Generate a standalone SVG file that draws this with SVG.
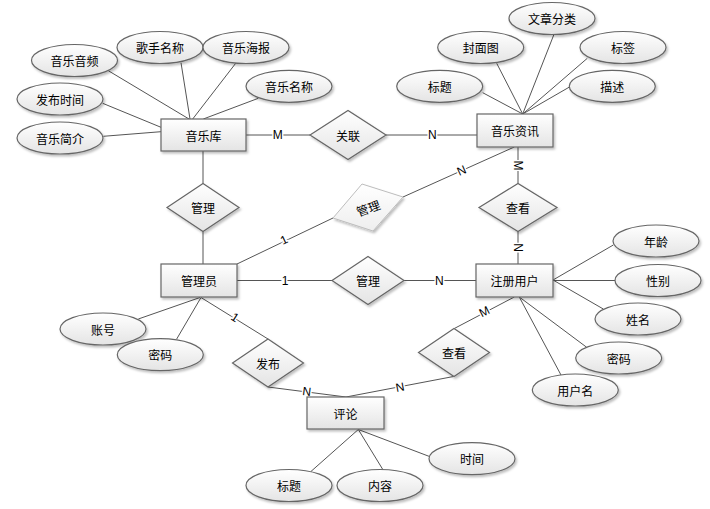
<svg xmlns="http://www.w3.org/2000/svg" width="710" height="509" viewBox="0 0 710 509">
<defs>
<linearGradient id="g" x1="0" y1="0" x2="0" y2="1"><stop offset="0" stop-color="#ffffff"/><stop offset="1" stop-color="#e4e4e4"/></linearGradient>
<linearGradient id="gl" x1="0" y1="0" x2="0" y2="1"><stop offset="0" stop-color="#ffffff"/><stop offset="1" stop-color="#eeeeee"/></linearGradient>
<filter id="sh" x="-20%" y="-20%" width="140%" height="150%"><feDropShadow dx="1.5" dy="2" stdDeviation="0.8" flood-color="#000" flood-opacity="0.25"/></filter>
</defs>
<style>
.s{fill:url(#g);stroke:#666;stroke-width:1.2;filter:url(#sh)}
.sl{fill:url(#gl);stroke:#bdbdbd;stroke-width:1;filter:url(#sh)}
.t{font-family:"Noto Sans CJK SC","Liberation Sans",sans-serif;font-size:12px;fill:#000;text-anchor:middle;dominant-baseline:central}
.c line{stroke:#555;stroke-width:1}
.l{font-family:"Liberation Sans",Arial,sans-serif;font-size:12px;fill:#000;text-anchor:middle;dominant-baseline:central;paint-order:stroke;stroke:#fff;stroke-width:3px}
</style>
<rect width="710" height="509" fill="#fff"/>
<g id="connectors" class="c">
<line x1="108.3" y1="70.7" x2="189" y2="119"/>
<line x1="181" y1="62.7" x2="190" y2="119"/>
<line x1="235.7" y1="63.3" x2="192.7" y2="119"/>
<line x1="258.3" y1="98.3" x2="203.3" y2="119"/>
<line x1="102.7" y1="103.3" x2="161" y2="127.3"/>
<line x1="103.3" y1="136.3" x2="161" y2="131.7"/>
<line x1="246" y1="135" x2="310" y2="135"/>
<line x1="386" y1="135" x2="477" y2="135"/>
<line x1="203" y1="151" x2="203" y2="183.5"/>
<line x1="203" y1="231.5" x2="203" y2="264"/>
<line x1="482.7" y1="92.7" x2="522.7" y2="114"/>
<line x1="496.7" y1="63.3" x2="522.7" y2="114"/>
<line x1="554" y1="34.3" x2="522.7" y2="114"/>
<line x1="587.3" y1="58.3" x2="522.7" y2="114"/>
<line x1="570" y1="86.7" x2="522.7" y2="114"/>
<line x1="514.3" y1="147" x2="403" y2="197"/>
<line x1="333" y1="218" x2="237" y2="264"/>
<line x1="518" y1="147" x2="518" y2="183.5"/>
<line x1="518" y1="231.5" x2="518" y2="264"/>
<line x1="237" y1="280.5" x2="332" y2="280.5"/>
<line x1="404" y1="280.5" x2="476" y2="280.5"/>
<line x1="553" y1="280" x2="613.3" y2="245"/>
<line x1="553" y1="280.5" x2="615" y2="280.5"/>
<line x1="553" y1="280" x2="603.3" y2="309"/>
<line x1="519.3" y1="297" x2="586.7" y2="347.3"/>
<line x1="519.3" y1="297" x2="561" y2="375"/>
<line x1="514.3" y1="297" x2="454.3" y2="328.5"/>
<line x1="453.5" y1="376.5" x2="346" y2="397"/>
<line x1="200" y1="297.5" x2="138.3" y2="319"/>
<line x1="201" y1="297.5" x2="176.7" y2="339"/>
<line x1="201" y1="297.5" x2="268" y2="339"/>
<line x1="268" y1="387" x2="346" y2="397"/>
<line x1="358.3" y1="429.5" x2="310.7" y2="471.7"/>
<line x1="358.3" y1="429.5" x2="382.7" y2="469.3"/>
<line x1="358.3" y1="429.5" x2="430" y2="456.7"/>
<text class="l" x="277.7" y="135">M</text>
<text class="l" x="432.3" y="135">N</text>
<text class="l" transform="translate(461.7,170.7) rotate(-24)">N</text>
<text class="l" transform="translate(284,240) rotate(-25.6)">1</text>
<text class="l" transform="translate(518,165.5) rotate(90)">M</text>
<text class="l" transform="translate(518,247.5) rotate(90)">N</text>
<text class="l" x="285" y="280.5">1</text>
<text class="l" x="439.3" y="280.5">N</text>
<text class="l" transform="translate(484.3,311.7) rotate(-27)">M</text>
<text class="l" transform="translate(400,387.3) rotate(-10.6)">N</text>
<text class="l" transform="translate(235,317.3) rotate(32)">1</text>
<text class="l" transform="translate(306.7,391.5) rotate(7)">N</text>
</g>
<g id="e-yinyueku"><rect class="s" x="161" y="119" width="85" height="32"/><text class="t" x="203.5" y="135">音乐库</text></g>
<g id="e-zixun"><rect class="s" x="477" y="114" width="76" height="33"/><text class="t" x="515" y="130.5">音乐资讯</text></g>
<g id="e-admin"><rect class="s" x="161" y="264" width="76" height="33"/><text class="t" x="199" y="280.5">管理员</text></g>
<g id="e-user"><rect class="s" x="476" y="264" width="77" height="33"/><text class="t" x="514.5" y="280.5">注册用户</text></g>
<g id="e-comment"><rect class="s" x="307" y="397" width="77" height="32"/><text class="t" x="345.5" y="413">评论</text></g>
<g id="r-guanlian"><polygon class="s" points="310,135 348,110.5 386,135 348,159.5"/><text class="t" x="348" y="135">关联</text></g>
<g id="r-guanli1"><polygon class="s" points="167,207.5 203,183.5 239,207.5 203,231.5"/><text class="t" x="203" y="207.5">管理</text></g>
<g id="r-guanli2"><polygon class="sl" points="333,218 362,184 403,197 373,231"/><text class="t" transform="translate(368,207.5) rotate(-20)">管理</text></g>
<g id="r-chakan1"><polygon class="s" points="479,207.5 518,183.5 557,207.5 518,231.5"/><text class="t" x="518" y="207.5">查看</text></g>
<g id="r-guanli3"><polygon class="s" points="332,280.5 368,256.5 404,280.5 368,304.5"/><text class="t" x="368" y="280.5">管理</text></g>
<g id="r-fabu"><polygon class="s" points="232.5,363 268,339 303.5,363 268,387"/><text class="t" x="268" y="363">发布</text></g>
<g id="r-chakan2"><polygon class="s" points="418.5,352.5 454,328.5 489.5,352.5 454,376.5"/><text class="t" x="454" y="352.5">查看</text></g>
<g id="a-yinpin"><ellipse class="s" cx="74.5" cy="60.5" rx="43" ry="16"/><text class="t" x="74.5" y="60.5">音乐音频</text></g>
<g id="a-geshou"><ellipse class="s" cx="160" cy="47.5" rx="43" ry="16"/><text class="t" x="160" y="47.5">歌手名称</text></g>
<g id="a-haibao"><ellipse class="s" cx="246" cy="47.5" rx="43" ry="16"/><text class="t" x="246" y="47.5">音乐海报</text></g>
<g id="a-mingcheng"><ellipse class="s" cx="289" cy="86.3" rx="43" ry="16"/><text class="t" x="289" y="86.3">音乐名称</text></g>
<g id="a-fabushijian"><ellipse class="s" cx="60" cy="99" rx="43" ry="16"/><text class="t" x="60" y="99">发布时间</text></g>
<g id="a-jianjie"><ellipse class="s" cx="60" cy="138" rx="43" ry="16"/><text class="t" x="60" y="138">音乐简介</text></g>
<g id="a-fenlei"><ellipse class="s" cx="552" cy="18.5" rx="43" ry="16"/><text class="t" x="552" y="18.5">文章分类</text></g>
<g id="a-fengmian"><ellipse class="s" cx="480.7" cy="47.5" rx="43" ry="16"/><text class="t" x="480.7" y="47.5">封面图</text></g>
<g id="a-biaoqian"><ellipse class="s" cx="623" cy="47.5" rx="43" ry="16"/><text class="t" x="623" y="47.5">标签</text></g>
<g id="a-biaoti1"><ellipse class="s" cx="439.7" cy="86.3" rx="43" ry="16"/><text class="t" x="439.7" y="86.3">标题</text></g>
<g id="a-miaoshu"><ellipse class="s" cx="612.3" cy="86.3" rx="43" ry="16"/><text class="t" x="612.3" y="86.3">描述</text></g>
<g id="a-nianling"><ellipse class="s" cx="656" cy="241" rx="43" ry="16"/><text class="t" x="656" y="241">年龄</text></g>
<g id="a-xingbie"><ellipse class="s" cx="658" cy="280.5" rx="43" ry="16"/><text class="t" x="658" y="280.5">性别</text></g>
<g id="a-xingming"><ellipse class="s" cx="638" cy="319" rx="43" ry="16"/><text class="t" x="638" y="319">姓名</text></g>
<g id="a-mima2"><ellipse class="s" cx="618.7" cy="358" rx="43" ry="16"/><text class="t" x="618.7" y="358">密码</text></g>
<g id="a-yonghuming"><ellipse class="s" cx="575.3" cy="390" rx="43" ry="16"/><text class="t" x="575.3" y="390">用户名</text></g>
<g id="a-zhanghao"><ellipse class="s" cx="103" cy="329" rx="43" ry="16"/><text class="t" x="103" y="329">账号</text></g>
<g id="a-mima1"><ellipse class="s" cx="160.3" cy="354.7" rx="43" ry="16"/><text class="t" x="160.3" y="354.7">密码</text></g>
<g id="a-biaoti2"><ellipse class="s" cx="289" cy="485.5" rx="43" ry="16"/><text class="t" x="289" y="485.5">标题</text></g>
<g id="a-neirong"><ellipse class="s" cx="380" cy="485.5" rx="43" ry="16"/><text class="t" x="380" y="485.5">内容</text></g>
<g id="a-shijian"><ellipse class="s" cx="472" cy="458.7" rx="43" ry="16"/><text class="t" x="472" y="458.7">时间</text></g>
</svg>
